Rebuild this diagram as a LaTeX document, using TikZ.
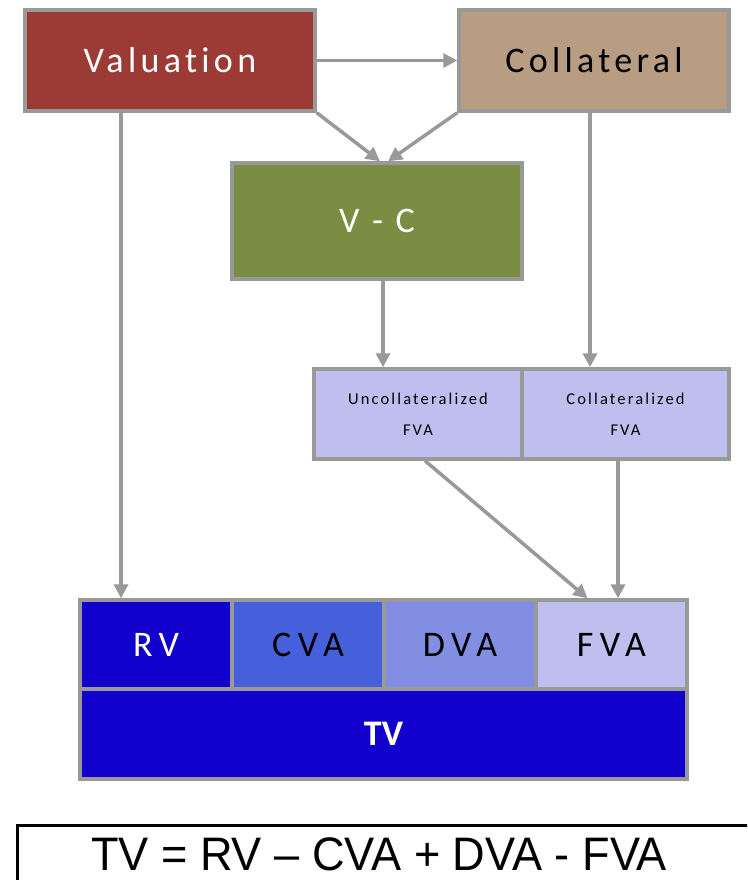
\documentclass[tikz,border=0pt]{standalone}
\usepackage{fontspec}
\usepackage{graphicx}
\usetikzlibrary{arrows.meta}
\setmainfont{Carlito}
\newfontfamily\cf[LetterSpace=12,Ligatures={NoCommon,NoRequired,NoContextual}]{Carlito}
\newfontfamily\cfs[LetterSpace=13,Ligatures={NoCommon,NoRequired,NoContextual}]{Carlito}
\newfontfamily\cfw[LetterSpace=18,Ligatures={NoCommon,NoRequired,NoContextual}]{Carlito}
\newfontfamily\lib{Liberation Sans}
\definecolor{bordergray}{RGB}{153,153,153}
\definecolor{valred}{RGB}{156,59,54}
\definecolor{coltan}{RGB}{184,157,130}
\definecolor{vcgreen}{RGB}{122,141,66}
\definecolor{lav}{RGB}{191,191,239}
\definecolor{deepblue}{RGB}{18,0,204}
\definecolor{cvablue}{RGB}{70,96,220}
\definecolor{dvablue}{RGB}{130,142,226}
\begin{document}
\begin{tikzpicture}[x=1pt,y=-1pt,
  box/.style={draw=bordergray,line width=3.5pt,inner sep=0pt,anchor=center},
  bigtxt/.style={font=\cf\fontsize{36}{40}\selectfont},
  rowtxt/.style={font=\cfw\fontsize{36}{40}\selectfont},
  smalltxt/.style={font=\cfs\fontsize{16.5}{31}\selectfont,align=center},
  arr/.style={draw=bordergray,line width=3.5pt,-{Triangle[length=14pt,width=14pt]}}]
\clip (0,0) rectangle (747,880);
\fill[white] (0,0) rectangle (747,880);
% top boxes
\node[box,fill=valred,minimum width=290pt,minimum height=101pt,text=white,bigtxt] (val) at (170,60.5) {Valuation};
\node[box,fill=coltan,minimum width=270pt,minimum height=101pt,text=black,bigtxt] (col) at (594,60.5) {Collateral};
\node[box,fill=vcgreen,minimum width=290pt,minimum height=116pt,text=white,bigtxt] (vc) at (377,221) {V - C};
% FVA split
\node[box,fill=lav,minimum width=208pt,minimum height=90pt,text=black,smalltxt] (ufva) at (418,414) {Uncollateralized\\FVA};
\node[box,fill=lav,minimum width=207pt,minimum height=90pt,text=black,smalltxt] (cfva) at (625.5,414) {Collateralized\\FVA};
% bottom row
\node[box,fill=deepblue,minimum width=152pt,minimum height=89pt,text=white,rowtxt] (rv) at (156,644.5) {RV};
\node[box,fill=cvablue,minimum width=152pt,minimum height=89pt,text=black,rowtxt] (cva) at (308,644.5) {CVA};
\node[box,fill=dvablue,minimum width=152pt,minimum height=89pt,text=black,rowtxt] (dva) at (460,644.5) {DVA};
\node[box,fill=lav,minimum width=151pt,minimum height=89pt,text=black,rowtxt] (fva) at (611.5,644.5) {FVA};
\node[box,fill=deepblue,minimum width=607pt,minimum height=90pt,text=white,font=\fontsize{36}{40}\selectfont\bfseries] (tv) at (383.5,734) {TV};
% connectors
\coordinate (vx) at (121,0);
\coordinate (cx) at (590,0);
\coordinate (mx) at (383,0);
\coordinate (ux) at (425,0);
\coordinate (fx) at (618,0);
\draw[arr] (val.east) -- (col.west);
\draw[arr] (val.south east) -- ([xshift=3pt]vc.north);
\draw[arr] (col.south west) -- ([xshift=11pt]vc.north);
\draw[arr] (val.south -| vx) -- (rv.north -| vx);
\draw[arr] (col.south -| cx) -- (cfva.north -| cx);
\draw[arr] (vc.south -| mx) -- (ufva.north -| mx);
\draw[arr] (ufva.south -| ux) -- ([xshift=-24pt]fva.north);
\draw[arr] (cfva.south -| fx) -- (fva.north -| fx);
% equation
\draw[black,line width=3pt] (17,825) rectangle (790,920);
\node[text=black,inner sep=0pt,font=\lib\fontsize{47}{50}\selectfont] (eq) at (379,854) {\scalebox{0.96}[1]{TV = RV – CVA + DVA - FVA}};
\end{tikzpicture}
\end{document}
